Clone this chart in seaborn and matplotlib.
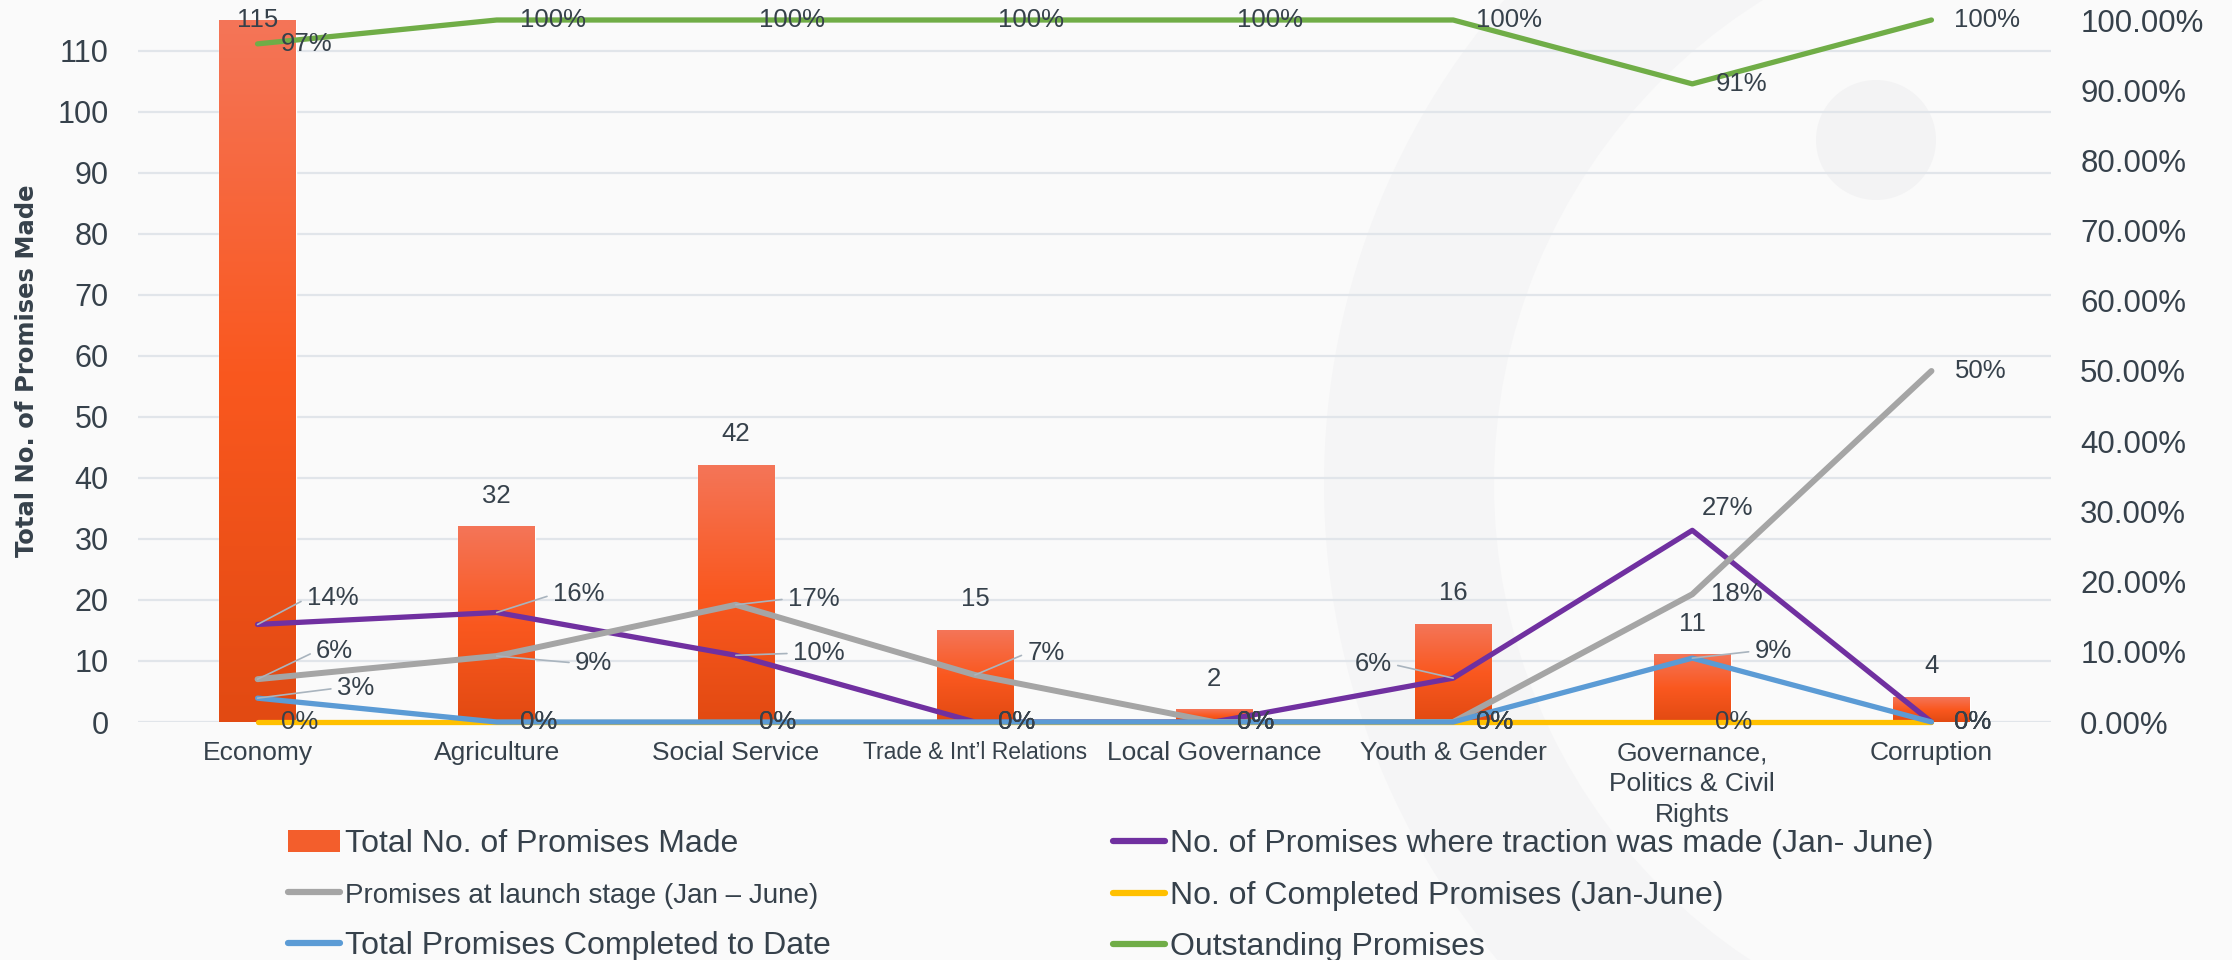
import numpy as np
import pandas as pd
import matplotlib
matplotlib.use('Agg')
import matplotlib.pyplot as plt
import seaborn as sns
from matplotlib.colors import LinearSegmentedColormap
from matplotlib.patches import Wedge, Circle, Patch
from matplotlib.lines import Line2D

# Données
categories = ['Economy', 'Agriculture', 'Social Service', 'Trade & Int’l Relations',
              'Local Governance', 'Youth & Gender', 'Governance,\nPolitics & Civil\nRights',
              'Corruption']
total_made = [115, 32, 42, 15, 2, 16, 11, 4]
traction = [0.139, 0.156, 0.095, 0.0, 0.0, 0.0625, 0.273, 0.0]
launch_stage = [0.061, 0.094, 0.167, 0.067, 0.0, 0.0, 0.182, 0.50]
completed_jan_june = [0.0, 0.0, 0.0, 0.0, 0.0, 0.0, 0.0, 0.0]
completed_to_date = [0.034, 0.0, 0.0, 0.0, 0.0, 0.0, 0.091, 0.0]
outstanding = [0.966, 1.0, 1.0, 1.0, 1.0, 1.0, 0.909, 1.0]

left_ticks = list(range(0, 111, 10))
right_ticks = [i / 10 for i in range(11)]

TXT = '#36414B'
GRID = '#E1E5EA'
sns.set_theme(style='white')
plt.rcParams['font.family'] = ['Liberation Sans', 'DejaVu Sans']

fig = plt.figure(figsize=(22.32, 9.6), dpi=100, facecolor='#FAFAFA')

# filigrane en fond
bg = fig.add_axes([0, 0, 1, 1])
bg.set_xlim(0, 2232)
bg.set_ylim(960, 0)
bg.axis('off')
bg.add_patch(Wedge((2064, 484), 740, 0, 360, width=170, color='#F5F5F6', lw=0))
bg.add_patch(Circle((1876, 140), 60, color='#F3F3F4', lw=0))

ax = fig.add_axes([138 / 2232, 1 - 722 / 960, (2051 - 138) / 2232, (722 - 20) / 960])
ax.patch.set_alpha(0)

df = pd.DataFrame({'Category': categories, 'Total': total_made})
sns.barplot(data=df, x='Category', y='Total', ax=ax, color='#F55A24',
            width=0.32, saturation=1, zorder=2)

# dégradé sur les barres
cmap = LinearSegmentedColormap.from_list('barres', ['#E24A12', '#FA581F', '#F47558'])
grad = np.linspace(0, 1, 256).reshape(-1, 1)
for p in ax.patches:
    x0, y0, w, h = p.get_x(), p.get_y(), p.get_width(), p.get_height()
    ax.imshow(grad, extent=[x0, x0 + w, y0, y0 + h], origin='lower', aspect='auto',
              cmap=cmap, zorder=2.1)

ax.set_xlim(-0.5, len(categories) - 0.5)
ax.set_ylim(0, 115)
ax.set_yticks(left_ticks)
ax.grid(axis='y', color=GRID, lw=1.6, zorder=0)
ax.set_axisbelow(True)
sns.despine(ax=ax, left=True, bottom=True)
ax.tick_params(axis='y', length=0, pad=21, labelsize=22, labelcolor=TXT)
ax.tick_params(axis='x', length=0, pad=14, labelsize=19, labelcolor=TXT)
for lbl in ax.get_xticklabels():
    lbl.set_linespacing(1.35)
    if 'Trade' in lbl.get_text():
        lbl.set_fontsize(16.5)
ax.set_xlabel('')
ax.set_ylabel('Total No. of Promises Made', fontsize=17.5, fontweight='bold', color=TXT,
              family='DejaVu Sans')
ax.yaxis.set_label_coords(-0.052, 0.5)

# étiquettes des barres
for i, v in enumerate(total_made):
    ax.text(i, min(v + 5.1, 115), f'{v}', ha='center', va='center', fontsize=18.5,
            color=TXT, zorder=5)

# séries en lignes sur l'axe secondaire
ax2 = ax.twinx()
x = np.arange(len(categories))
series = [
    ('No. of Promises where traction was made (Jan- June)', traction, '#7030A0', 3.8),
    ('Promises at launch stage (Jan – June)', launch_stage, '#A5A5A5', 4.3),
    ('No. of Completed Promises (Jan-June)', completed_jan_june, '#FFC000', 3.8),
    ('Total Promises Completed to Date', completed_to_date, '#5B9BD5', 3.8),
    ('Outstanding Promises', outstanding, '#70AD47', 3.8),
]
for name, vals, col, lw in series:
    sns.lineplot(x=x, y=vals, ax=ax2, color=col, lw=lw, legend=False,
                 solid_capstyle='round', solid_joinstyle='round', clip_on=False)

ax2.set_ylim(0, 1)
ax2.set_yticks(right_ticks)
ax2.yaxis.set_major_formatter(lambda v, p: f'{v * 100:.2f}%')
ax2.tick_params(axis='y', length=0, pad=21, labelsize=22.5, labelcolor=TXT)
ax2.set_ylabel('')
sns.despine(ax=ax2, left=True, bottom=True, right=True)

# positions particulières des étiquettes (décalage en pixels, ligne de rappel)
offsets = {
    (0, 0): (75, -26, True), (0, 1): (82, -18, True), (0, 2): (83, -2, True),
    (0, 5): (-80, -14, True), (0, 6): (35, -22, False),
    (1, 0): (77, -28, True), (1, 1): (97, 7, True), (1, 2): (78, -6, True),
    (1, 3): (71, -22, True), (1, 6): (44, 0, False),
    (3, 0): (98, -10, True), (3, 6): (81, -7, True),
}
k = 0.72  # px -> pt
for s, (name, vals, col, lw) in enumerate(series):
    for i, v in enumerate(vals):
        txt = f'{v:.0%}'
        if (s, i) in offsets:
            dx, dy, leader = offsets[(s, i)]
            arrow = None
            if leader:
                arrow = dict(arrowstyle='-', color='#A9B4BE', lw=1.2, shrinkA=2, shrinkB=0,
                             relpos=(0, 0.5) if dx > 0 else (1, 0.5))
            ax2.annotate(txt, (i, v), xytext=(dx * k, -dy * k), textcoords='offset points',
                         ha='center', va='center', fontsize=18.5, color=TXT,
                         arrowprops=arrow, annotation_clip=False, zorder=6)
        else:
            ax2.annotate(txt, (i, v), xytext=(23 * k, 0), textcoords='offset points',
                         ha='left', va='center', fontsize=18.5, color=TXT,
                         annotation_clip=False, zorder=6)

# légende en deux colonnes
bar_handle = Patch(facecolor='#F35E2C', edgecolor='none')
lines = {name: Line2D([0], [0], color=col, lw=4.5, solid_capstyle='round')
         for name, vals, col, lw in series}
names = [s[0] for s in series]
leg_kw = dict(loc='upper left', frameon=False, fontsize=23, borderpad=0, borderaxespad=0,
              handlelength=1.62, handletextpad=0.15, labelspacing=0.68, labelcolor=TXT)
leg1 = fig.legend([bar_handle, lines[names[1]], lines[names[3]]],
                  ['Total No. of Promises Made', names[1], names[3]],
                  bbox_to_anchor=(288 / 2232, 1 - 829 / 960), **leg_kw)
leg1.get_texts()[1].set_fontsize(20)
leg2 = fig.legend([lines[names[0]], lines[names[2]], lines[names[4]]],
                  [names[0], names[2], names[4]],
                  bbox_to_anchor=(1113 / 2232, 1 - 829 / 960), **leg_kw)

plt.savefig('out.png', dpi=100, facecolor=fig.get_facecolor())
plt.close()
